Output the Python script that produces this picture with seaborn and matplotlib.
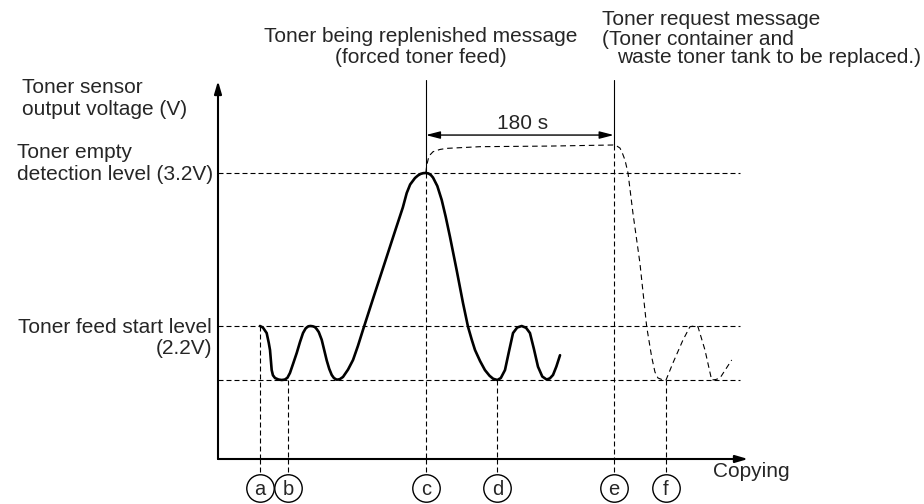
import matplotlib
matplotlib.use("Agg")
import matplotlib.pyplot as plt
import pandas as pd
import seaborn as sns

# Sensor levels (V)
LEVEL_EMPTY = 3.2
LEVEL_FEED = 2.2
LEVEL_LOW = 1.85

# Event times (s) along the copying axis
event_labels = ["a", "b", "c", "d", "e", "f"]
event_times = [40.2, 67.3, 199.0, 267.5, 379.0, 429.0]
event_from = [LEVEL_FEED, LEVEL_LOW, LEVEL_EMPTY, LEVEL_LOW, 3.383, LEVEL_LOW]

# Sensor output during normal copying and forced toner feed
solid_t = [40.2, 43.0, 46.6, 48.6, 49.8, 50.7, 51.4, 52.6, 54.6, 58.0, 61.0, 64.0,
           66.5, 68.9, 72.0, 75.4, 78.5, 81.4, 84.0, 86.5, 88.6, 90.8, 92.8, 94.5,
           96.5, 99.3, 101.8, 104.1, 106.5, 108.9, 111.0, 113.7, 116.5, 119.7, 124.5,
           129.3, 134.0, 138.8, 149.0, 159.9, 170.0, 177.0, 180.7, 184.0, 188.6, 191.5,
           194.0, 196.5, 199.0, 201.5, 203.8, 205.9, 210.0, 214.2, 218.0, 222.1, 228.5,
           234.6, 239.4, 243.0, 246.1, 251.0, 255.6, 260.0, 263.5, 267.5, 270.8, 274.8,
           278.5, 282.5, 286.5, 290.8, 295.0, 298.7, 302.5, 306.4, 310.5, 314.7, 317.8,
           320.8, 324.0, 327.5]
solid_v = [2.200, 2.190, 2.154, 2.090, 2.043, 1.970, 1.912, 1.878, 1.860, 1.850, 1.847, 1.850,
           1.862, 1.893, 1.955, 2.024, 2.095, 2.154, 2.185, 2.198, 2.200, 2.198, 2.193, 2.180,
           2.160, 2.110, 2.040, 1.975, 1.920, 1.880, 1.860, 1.849, 1.852, 1.867, 1.915,
           1.978, 2.070, 2.174, 2.390, 2.618, 2.830, 2.975, 3.069, 3.125, 3.167, 3.184,
           3.194, 3.199, 3.200, 3.197, 3.187, 3.170, 3.115, 3.024, 2.915, 2.784, 2.566,
           2.350, 2.195, 2.110, 2.043, 1.970, 1.912, 1.875, 1.855, 1.847, 1.860, 1.912,
           2.030, 2.154, 2.190, 2.200, 2.188, 2.154, 2.050, 1.934, 1.870, 1.850, 1.858,
           1.880, 1.935, 2.009]

# Sensor output when the toner container has run empty
empty_t = [199.0, 199.6, 200.4, 202.0, 205.9, 212.6, 219.0, 250.9, 317.9, 378.2, 382.0,
           384.9, 386.8, 389.7, 392.6, 397.3, 404.0, 410.5, 415.2, 418.4, 421.3, 425.1,
           429.0, 435.6, 445.2, 451.9, 455.7, 459.6, 466.3, 472.7, 476.5, 480.7, 491.9]
empty_v = [3.200, 3.235, 3.265, 3.311, 3.339, 3.354, 3.361, 3.372, 3.376, 3.383, 3.376,
           3.363, 3.337, 3.285, 3.200, 2.939, 2.612, 2.195, 2.000, 1.899, 1.860, 1.850,
           1.847, 1.958, 2.108, 2.195, 2.200, 2.195, 2.043, 1.847, 1.850, 1.860, 1.978]

INTERVAL_S = 180

sns.set_theme(style="white")
plt.rcParams["font.family"] = ["Liberation Sans", "DejaVu Sans"]

W, H = 924, 504
fig = plt.figure(figsize=(W / 100, H / 100), dpi=100)
ax = fig.add_axes([218 / W, 1 - 459 / H, 530 / W, 378 / H])
T_MAX, V_MIN, V_MAX = 507.5, 1.3307, 3.8013

FS = 15
dash = (0, (4.5, 2.7))
thin = 0.8

# Axes with arrow heads
head = "-|>,head_length=0.75,head_width=0.22"
ax.annotate("", xy=(0, V_MAX), xytext=(0, V_MIN),
            arrowprops=dict(arrowstyle=head, lw=1.5, color="black",
                            shrinkA=0, shrinkB=0, mutation_scale=10))
ax.annotate("", xy=(T_MAX, V_MIN), xytext=(0, V_MIN),
            arrowprops=dict(arrowstyle=head, lw=1.5, color="black",
                            shrinkA=0, shrinkB=0, mutation_scale=10))

# Reference levels
for lvl in (LEVEL_EMPTY, LEVEL_FEED, LEVEL_LOW):
    ax.plot([0, 500], [lvl, lvl], color="black", lw=thin, ls=dash)

# Event markers: dashed drop lines, circled letters
xt = ax.get_xaxis_transform()
for lab, t, v0 in zip(event_labels, event_times, event_from):
    ax.plot([t, t], [v0, V_MIN], color="black", lw=thin, ls=dash, clip_on=False)
    ax.plot([t, t], [0, -0.0397], color="black", lw=thin, ls=dash,
            transform=xt, clip_on=False)
    ax.scatter([t], [-0.0767], s=390, facecolor="white", edgecolor="black",
               linewidth=1.0, transform=xt, clip_on=False, zorder=5)
    ax.text(t, -0.0952, lab, transform=xt, ha="center", va="baseline",
            fontsize=14.5, zorder=6)

# Message lines above c and e
t_c, t_e = event_times[2], event_times[4]
ax.plot([t_c, t_c], [LEVEL_EMPTY, 3.808], color="black", lw=thin, clip_on=False)
ax.plot([t_e, t_e], [3.383, 3.808], color="black", lw=thin, clip_on=False)

# 180 s interval
ax.annotate("", xy=(t_c + INTERVAL_S, 3.448), xytext=(t_c, 3.448),
            arrowprops=dict(arrowstyle="<|-|>,head_length=0.85,head_width=0.22",
                            lw=1.0, color="black", shrinkA=0, shrinkB=0,
                            mutation_scale=10))
ax.text(t_c + INTERVAL_S / 2 + 3, 3.488, f"{INTERVAL_S} s", ha="center",
        va="baseline", fontsize=FS)

# Curves
solid = pd.DataFrame({"t": solid_t, "v": solid_v})
empty = pd.DataFrame({"t": empty_t, "v": empty_v})
sns.lineplot(data=solid, x="t", y="v", sort=False, color="black", lw=1.9, ax=ax)
sns.lineplot(data=empty, x="t", y="v", sort=False, color="black", lw=0.8,
             linestyle=(0, (5, 3.5)), ax=ax)
ax.set_xlim(0, T_MAX)
ax.set_ylim(V_MIN, V_MAX)
ax.axis("off")


def label(x, y, s, ha="left"):
    fig.text(x / W, 1 - y / H, s, ha=ha, va="baseline", fontsize=FS)


label(22, 93, "Toner sensor")
label(22, 115, "output voltage (V)")
label(17, 158, "Toner empty")
label(17, 180, "detection level (3.2V)")
label(212, 333, "Toner feed start level", ha="right")
label(212, 354, "(2.2V)", ha="right")
label(421, 42, "Toner being replenished message", ha="center")
label(421, 63, "(forced toner feed)", ha="center")
label(602, 25, "Toner request message")
label(602, 45, "(Toner container and")
label(617, 63, "waste toner tank to be replaced.)")
label(713, 477, "Copying")

fig.savefig("out.png", dpi=100, facecolor="white")
